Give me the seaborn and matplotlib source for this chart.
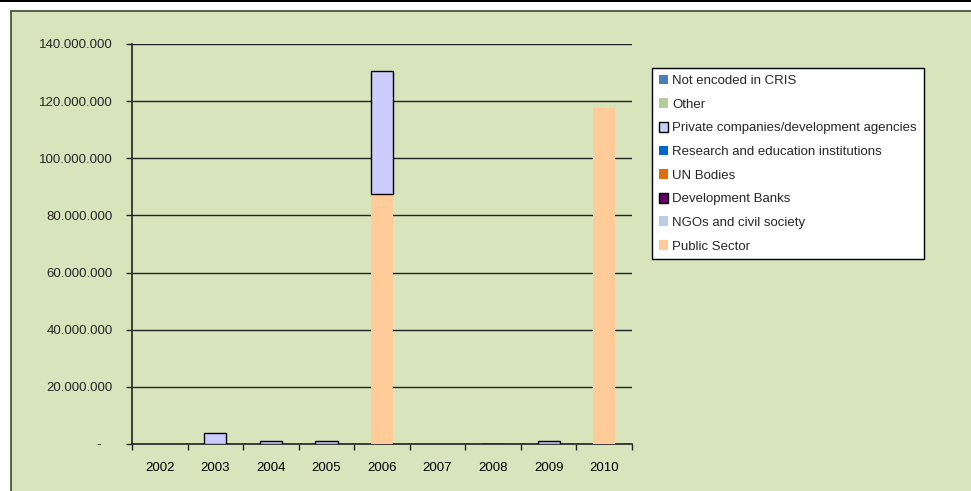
import seaborn as sns
import matplotlib.pyplot as plt
from matplotlib.patches import Patch, Rectangle
from matplotlib.ticker import FuncFormatter, FixedLocator
import numpy as np
import pandas as pd

# Data (in EUR)
years = ['2002', '2003', '2004', '2005', '2006', '2007', '2008', '2009', '2010']
public_sector = [0, 0, 0, 0, 87.5e6, 0, 0, 0, 117.6e6]
ngos = [0, 0, 0, 0, 0, 0, 0, 0, 0]
dev_banks = [0, 0, 0, 0, 0, 0, 0, 0, 0]
un_bodies = [0, 0, 0, 0, 0, 0, 0, 0, 0]
research = [0, 0, 0, 0, 0, 0, 0, 0, 0]
private = [0, 3.85e6, 1.05e6, 1.05e6, 43.2e6, 0, 0.1e6, 1.05e6, 0]
other = [0, 0, 0, 0, 0, 0, 0, 0, 0]
not_encoded = [0, 0, 0, 0, 0, 0, 0, 0, 0]

# bottom-to-top stacking order, legend shows it reversed
series = [
    ('Public Sector', public_sector, '#FFCC99', False),
    ('NGOs and civil society', ngos, '#B9CDE5', False),
    ('Development Banks', dev_banks, '#660066', True),
    ('UN Bodies', un_bodies, '#E46C0A', False),
    ('Research and education institutions', research, '#0066CC', False),
    ('Private companies/development agencies', private, '#CCCCFF', True),
    ('Other', other, '#B3CC99', False),
    ('Not encoded in CRIS', not_encoded, '#4A7EBB', False),
]

BG = '#D8E4BC'
DARK = '#222222'

sns.set_style('white')
plt.rcParams['font.family'] = ['Liberation Sans', 'DejaVu Sans']
plt.rcParams['font.size'] = 9

fig = plt.figure(figsize=(9.71, 4.91), dpi=100)
fig.patch.set_facecolor('white')

# top black band and green chart panel (behind the axes)
fig.patches.append(Rectangle((0, 1 - 2 / 491), 1, 2 / 491, transform=fig.transFigure,
                             facecolor='black', edgecolor='none', zorder=-2))
fig.patches.append(Rectangle((10.5 / 971, -0.05), 1.1, 1 - 11 / 491 + 0.05, transform=fig.transFigure,
                             facecolor=BG, edgecolor='#3A4A2A', linewidth=1.2, zorder=-2))

ax = fig.add_axes([132 / 971, 1 - 444 / 491, 500 / 971, 400 / 491])
ax.set_facecolor('none')
ax.set_zorder(1)

bottom = np.zeros(len(years))
for name, vals, color, edged in series:
    df = pd.DataFrame({'year': years, 'value': vals})
    sns.barplot(data=df, x='year', y='value', order=years, color=color, width=0.4,
                saturation=1, errorbar=None, ax=ax, bottom=bottom.copy(),
                edgecolor='black' if edged else 'none', linewidth=1 if edged else 0, zorder=3)
    bottom += np.array(vals)

# empty segments should not leave an outline behind
for p in ax.patches:
    if p.get_height() == 0:
        p.set_linewidth(0)

ax.set_xlim(-0.5, len(years) - 0.5)
ax.set_ylim(0, 140e6)
ax.set_yticks(np.arange(0, 140e6 + 1, 20e6))
ax.yaxis.set_major_formatter(FuncFormatter(lambda v, _: '-   ' if v == 0 else f'{v:,.0f}'.replace(',', '.')))
ax.grid(axis='y', color=DARK, linewidth=1)
ax.set_axisbelow(True)
ax.set_xlabel('')
ax.set_ylabel('')

for s in ('top', 'right'):
    ax.spines[s].set_visible(False)
for s in ('left', 'bottom'):
    ax.spines[s].set_color(DARK)
    ax.spines[s].set_linewidth(1.2)

ax.xaxis.set_minor_locator(FixedLocator(np.arange(-0.5, len(years), 1)))
ax.tick_params(axis='x', which='major', length=0, pad=13, labelsize=9.5, colors='black')
ax.tick_params(axis='x', which='minor', direction='out', length=4, width=1, color=DARK, bottom=True)
ax.tick_params(axis='y', direction='out', length=4, width=1, color=DARK, pad=10, labelsize=9.5, left=True)

handles = [Patch(facecolor=c, edgecolor='black' if e else c, linewidth=1 if e else 0, label=n)
           for n, _, c, e in reversed(series)]
leg = fig.legend(handles=handles, loc='upper left', bbox_to_anchor=(652 / 971, 1 - 68 / 491),
                 frameon=True, fancybox=False, framealpha=1, edgecolor='black', facecolor='white',
                 handlelength=0.75, handleheight=0.75, handletextpad=0.3, labelspacing=0.85,
                 borderpad=0.5, borderaxespad=0, fontsize=9.5)
leg.get_frame().set_linewidth(1)

fig.savefig('out.png', dpi=100, facecolor=fig.get_facecolor())
